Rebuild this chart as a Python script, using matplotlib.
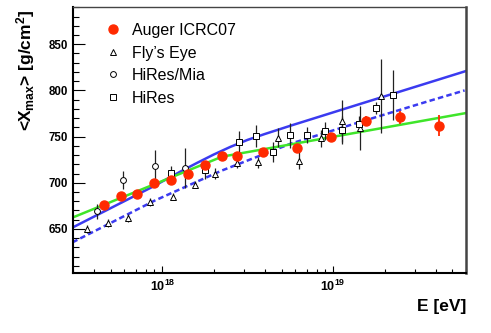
import numpy as np
import matplotlib
matplotlib.use('Agg')
import matplotlib.pyplot as plt
from matplotlib.lines import Line2D
from matplotlib.ticker import MultipleLocator, LogLocator, FuncFormatter, NullFormatter

plt.rcParams['font.family'] = ['Liberation Sans', 'DejaVu Sans']
plt.rcParams['mathtext.fontset'] = 'custom'
plt.rcParams['mathtext.rm'] = 'Liberation Sans'
plt.rcParams['mathtext.bf'] = 'Liberation Sans:bold'
plt.rcParams['mathtext.it'] = 'Liberation Sans:italic'

# ---------------- data (log10 E/eV, <Xmax> g/cm^2) ----------------
auger_lgE = [17.66, 17.76, 17.85, 17.95, 18.05, 18.15, 18.25, 18.35, 18.44, 18.59, 18.79, 18.99, 19.19, 19.39, 19.62]
auger_X   = [676, 686, 688, 700, 703, 709, 719, 729, 729, 733.5, 738, 750, 767, 771, 762]
auger_err = [3, 3, 3, 3, 3, 3, 3, 3, 3, 4, 4, 4, 5, 7, 11]

fe_lgE = [17.56, 17.68, 17.80, 17.93, 18.06, 18.19, 18.31, 18.44, 18.56, 18.68, 18.80, 18.93, 19.05, 19.16, 19.28]
fe_X   = [650, 656.5, 662, 679, 685, 698, 710, 721, 722, 749, 724, 748, 767, 759, 794]
fe_err = [4, 4, 4, 4, 4, 4, 6, 5, 6, 10, 9, 9, 23, 24, 40]

mia_lgE = [17.62, 17.77, 17.96, 18.13]
mia_X   = [669, 703, 718, 716]
mia_err = [8, 10, 18, 22]

hires_lgE = [18.05, 18.25, 18.45, 18.55, 18.65, 18.75, 18.85, 18.95, 19.05, 19.15, 19.25, 19.35]
hires_X   = [711, 714, 744, 751, 733.5, 751.5, 751.5, 756, 757, 764, 781, 795.5]
hires_err = [7, 10, 12, 12, 11, 13.5, 8.5, 10, 15, 8, 6, 27]

# model / fit curves
blue_lgE = [17.474, 17.936, 18.1, 18.2, 18.3, 18.4, 18.5, 18.6, 18.754, 19.152, 19.561, 19.778]
blue_X   = [651.5, 695, 711.5, 721.2, 730.5, 739, 746.5, 752.8, 762, 785, 808.5, 821]

dash_lgE = [17.474, 17.953, 18.345, 18.754, 19.152, 19.561, 19.77]
dash_X   = [635.5, 680.5, 713, 742.5, 765.5, 788.5, 800]

green_lgE = [17.474, 18.35, 19.778]
green_X   = [662.3, 728.3, 775.5]

legend_labels = ['Auger ICRC07', "Fly\u2019s Eye", 'HiRes/Mia', 'HiRes']

RED = '#ff2a00'
BLUE = '#3b3bf0'
GREEN = '#3fe52a'

E = lambda lg: 10.0 ** np.asarray(lg)

fig = plt.figure(figsize=(4.91, 3.33), dpi=100)
ax = fig.add_axes([73 / 491, 1 - 273.3 / 333, (466 - 73) / 491, (273.3 - 7.3) / 333])
ax.set_xscale('log')
ax.set_xlim(3e17, 6e19)
ax.set_ylim(602, 890)

ax.plot(E(blue_lgE), blue_X, color=BLUE, lw=1.8, zorder=2)
ax.plot(E(dash_lgE), dash_X, color=BLUE, lw=1.8, ls=(0, (2.2, 1.3)), zorder=2)
ax.plot(E(green_lgE), green_X, color=GREEN, lw=1.8, zorder=2)

ekw = dict(ecolor='#222222', elinewidth=0.9, capsize=0, mfc='white', mec='black', mew=0.7, ls='none', zorder=4)
ax.errorbar(E(fe_lgE), fe_X, yerr=fe_err, fmt='^', ms=4.2, **ekw)
ax.errorbar(E(mia_lgE), mia_X, yerr=mia_err, fmt='o', ms=4.2, **ekw)
ax.errorbar(E(hires_lgE), hires_X, yerr=hires_err, fmt='s', ms=4.0, **ekw)
ax.errorbar(E(auger_lgE), auger_X, yerr=auger_err, fmt='o', ms=6.5, color=RED, mec=RED,
            ecolor=RED, elinewidth=1.3, capsize=0, ls='none', zorder=5)

handles = [
    Line2D([], [], marker='o', ls='none', ms=6.5, color=RED, mec=RED),
    Line2D([], [], marker='^', ls='none', ms=4.2, mfc='white', mec='black', mew=0.7),
    Line2D([], [], marker='o', ls='none', ms=4.2, mfc='white', mec='black', mew=0.7),
    Line2D([], [], marker='s', ls='none', ms=4.0, mfc='white', mec='black', mew=0.7),
]
ax.legend(handles, legend_labels, loc='upper left', bbox_to_anchor=(0.0855, 0.941),
          frameon=False, fontsize=11.5, handlelength=0.8, handletextpad=0.8,
          labelspacing=0.47, borderaxespad=0, borderpad=0)

# ticks
ax.xaxis.set_major_locator(LogLocator(base=10))
ax.xaxis.set_minor_locator(LogLocator(base=10, subs=np.arange(2, 10)))
ax.xaxis.set_major_formatter(FuncFormatter(lambda v, p: r'$\mathbf{10^{%d}}$' % int(round(np.log10(v)))))
ax.xaxis.set_minor_formatter(NullFormatter())
ax.yaxis.set_major_locator(MultipleLocator(50))
ax.yaxis.set_minor_locator(MultipleLocator(10))

ax.tick_params(axis='y', which='major', direction='in', length=8.6, width=0.8, pad=3.5,
               labelsize=8.3, right=False)
ax.tick_params(axis='y', which='minor', direction='in', length=4.3, width=0.8, right=False)
ax.tick_params(axis='x', which='major', direction='in', length=5, width=0.8, pad=4,
               labelsize=9, top=False)
ax.tick_params(axis='x', which='minor', direction='in', length=2.6, width=0.8, top=False)
for lab in ax.get_yticklabels():
    lab.set_fontweight('bold')

for s in ['left', 'bottom']:
    ax.spines[s].set_linewidth(1.5)
    ax.spines[s].set_color('black')
ax.spines['top'].set_linewidth(1.0)
ax.spines['top'].set_color('#444444')
ax.spines['right'].set_linewidth(1.8)
ax.spines['right'].set_color('#444444')

ax.set_ylabel(r'<X$_{\mathbf{max}}$> [g/cm$^{\mathbf{2}}$]', fontsize=12.5, fontweight='bold', loc='top')
ax.yaxis.set_label_coords(-0.092, 0.99)
ax.set_xlabel('E [eV]', fontsize=12.5, fontweight='bold', loc='right')
ax.xaxis.set_label_coords(1.0, -0.098)

fig.savefig('out.png', dpi=100)
